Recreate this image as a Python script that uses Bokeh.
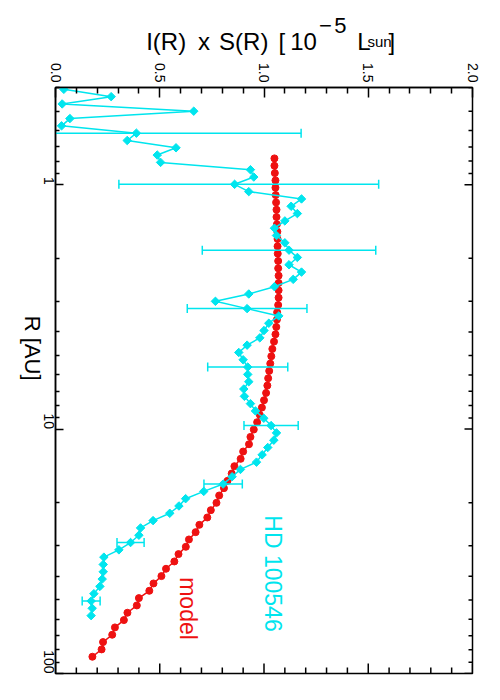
import math
from bokeh.plotting import figure
from bokeh.layouts import column
from bokeh.models import Range1d, FixedTicker, Label, NumeralTickFormatter
from bokeh.core.properties import value
from bokeh.embed import file_html
from bokeh.resources import INLINE

# ---------------- data ----------------
# model curve: R [AU] and I(R) x S(R) [1e-5 Lsun]
model_r = [0.780, 0.836, 0.896, 0.960, 1.028, 1.102, 1.181, 1.265, 1.355, 1.452,
           1.556, 1.667, 1.786, 1.914, 2.051, 2.198, 2.355, 2.523, 2.703, 2.897,
           3.104, 3.326, 3.563, 3.818, 4.091, 4.384, 4.697, 5.033, 5.393, 5.779,
           6.192, 6.634, 7.109, 7.617, 8.162, 8.745, 9.370, 10.04, 10.76, 11.53,
           12.35, 13.23, 14.18, 15.19, 16.28, 17.44, 18.69, 20.03, 21.46, 22.99,
           24.64, 26.40, 28.28, 30.31, 32.47, 34.79, 37.28, 39.95, 42.81, 45.87,
           49.15, 52.66, 56.42, 60.46, 64.78, 69.41, 74.37, 79.69, 85.39]
model_v = [1.050, 1.050, 1.052, 1.055, 1.055, 1.056, 1.058, 1.060, 1.060, 1.062,
           1.064, 1.065, 1.065, 1.066, 1.068, 1.068, 1.070, 1.070, 1.070, 1.070,
           1.068, 1.063, 1.062, 1.059, 1.055, 1.048, 1.040, 1.035, 1.030, 1.025,
           1.020, 1.016, 1.010, 1.000, 0.990, 0.980, 0.967, 0.951, 0.935, 0.928,
           0.900, 0.888, 0.858, 0.845, 0.825, 0.808, 0.785, 0.772, 0.745, 0.728,
           0.690, 0.672, 0.640, 0.625, 0.590, 0.570, 0.530, 0.508, 0.470, 0.450,
           0.400, 0.390, 0.345, 0.328, 0.285, 0.272, 0.228, 0.221, 0.177]

# HD 100546 measurements
hd_r = [0.407, 0.436, 0.467, 0.500, 0.536, 0.574, 0.615, 0.659, 0.706, 0.756,
        0.810, 0.868, 0.930, 0.996, 1.067, 1.143, 1.225, 1.312, 1.406, 1.506,
        1.613, 1.728, 1.852, 1.984, 2.125, 2.277, 2.439, 2.613, 2.799, 2.999,
        3.213, 3.442, 3.687, 3.950, 4.232, 4.533, 4.857, 5.203, 5.574, 5.971,
        6.397, 6.853, 7.342, 7.865, 8.426, 9.027, 9.671, 10.36, 11.10, 11.89,
        12.74, 13.65, 14.62, 15.66, 16.78, 17.98, 19.26, 20.63, 22.10, 23.68,
        25.37, 27.18, 29.11, 31.19, 33.41, 35.80, 38.35, 41.08, 44.01, 47.15,
        50.51, 54.11, 57.97]
hd_v = [0.040, 0.267, 0.032, 0.663, 0.069, 0.029, 0.388, 0.344, 0.578, 0.488,
        0.504, 0.935, 0.951, 0.859, 0.927, 1.180, 1.130, 1.160, 1.100, 1.050,
        1.060, 1.100, 1.120, 1.160, 1.120, 1.180, 1.140, 1.050, 0.927, 0.767,
        0.919, 1.071, 1.023, 1.000, 0.980, 0.919, 0.879, 0.900, 0.922, 0.922,
        0.927, 0.903, 0.906, 0.935, 0.959, 0.999, 1.034, 1.060, 1.047, 1.018,
        0.991, 0.964, 0.887, 0.847, 0.804, 0.711, 0.624, 0.592, 0.548, 0.468,
        0.408, 0.400, 0.360, 0.304, 0.232, 0.229, 0.229, 0.224, 0.213, 0.184,
        0.171, 0.176, 0.171]

# error bars (every 8th measurement)
err_r = [0.615, 0.996, 1.852, 3.213, 5.574, 9.671, 16.78, 29.11, 50.51]
err_c = [0.388, 0.927, 1.120, 0.919, 0.922, 1.034, 0.804, 0.360, 0.171]
err_e = [0.790, 0.623, 0.416, 0.287, 0.192, 0.130, 0.092, 0.065, 0.043]

x_ticks = [0.0, 0.5, 1.0, 1.5, 2.0]
x_minor = [0.1, 0.2, 0.3, 0.4, 0.6, 0.7, 0.8, 0.9, 1.1, 1.2, 1.3, 1.4,
           1.6, 1.7, 1.8, 1.9]
r_ticks = [1, 10, 100]
r_minor = [0.4, 0.5, 0.6, 0.7, 0.8, 0.9, 2, 3, 4, 5, 6, 7, 8, 9,
           20, 30, 40, 50, 60, 70, 80, 90]

X_MIN, X_MAX = 0.0, 2.0
R_MIN, R_MAX = 0.4, 100.0

CYAN = "#00e5ee"
RED = "#ee1111"
FONT = "Liberation Sans"

# page layout: title strip on top, then the plot
PAGE_W = 492
TITLE_H = 55
MAIN_H = 640
# frame on the page: x 55..472, y 87..673
FR_L, FR_T, FR_R, FR_B = 55, 87, 472, 673

# ---- title strip (coordinates = page pixels) ----
tf = figure(width=PAGE_W, height=TITLE_H, x_range=Range1d(0, PAGE_W),
            y_range=Range1d(TITLE_H, 0), title=None,
            x_axis_location=None, y_axis_location=None,
            output_backend="svg", toolbar_location=None,
            min_border=0, outline_line_color=None)
tf.xgrid.visible = False
tf.ygrid.visible = False


def txt(s, x, y, size):
    tf.text(x=[x], y=[y], text=[s], text_font=value(FONT), text_font_size=value(size),
            text_color="black", text_align="left", text_baseline="alphabetic")


txt("I(R)", 107, 41, "24px")
txt("x", 168, 41, "24px")
txt("S(R)", 193, 41, "24px")
txt("[", 263, 41, "24px")
txt("10", 277, 41, "24px")
txt("\u2212", 311, 25, "22px")
txt("5", 329, 25, "22px")
txt("L", 356, 41, "24px")
txt("sun", 368, 41, "15px")
txt("]", 393, 41, "24px")

# ---------------- main figure ----------------
p = figure(width=PAGE_W, height=MAIN_H, title=None,
           x_range=Range1d(X_MIN, X_MAX), y_range=Range1d(R_MAX, R_MIN),
           y_axis_type="log", x_axis_location="above",
           output_backend="svg", toolbar_location=None,
           min_border_left=FR_L, min_border_top=FR_T - TITLE_H,
           min_border_right=PAGE_W - FR_R, min_border_bottom=TITLE_H + MAIN_H - FR_B)
p.xgrid.visible = False
p.ygrid.visible = False
p.outline_line_color = "black"
p.outline_line_width = 1.5
p.background_fill_color = "white"
p.border_fill_color = "white"


def style(ax, major_in, minor_in):
    ax.axis_line_color = "black"
    ax.axis_line_width = 1.5
    ax.major_tick_line_color = "black"
    ax.major_tick_line_width = 1.5
    ax.minor_tick_line_color = "black"
    ax.minor_tick_line_width = 1.5
    ax.major_tick_in = major_in
    ax.major_tick_out = 0
    ax.minor_tick_in = minor_in
    ax.minor_tick_out = 0
    ax.major_label_text_font = FONT
    ax.major_label_text_color = "black"
    ax.major_label_text_font_size = "14px"
    ax.major_label_orientation = -math.pi / 2


top = p.xaxis[0]
top.ticker = FixedTicker(ticks=x_ticks, minor_ticks=x_minor)
top.formatter = NumeralTickFormatter(format="0.0")
style(top, 10, 6)
top.major_label_standoff = 5

left = p.yaxis[0]
left.ticker = FixedTicker(ticks=r_ticks, minor_ticks=r_minor)
left.major_label_overrides = {1: "1", 10: "10", 100: "100"}
style(left, 8, 4)
left.major_label_standoff = 7
left.axis_label = "R [AU]"
left.axis_label_text_font = FONT
left.axis_label_text_font_size = "22px"
left.axis_label_text_font_style = "normal"
left.axis_label_text_color = "black"
left.axis_label_standoff = 3
if "axis_label_orientation" in left.properties():
    left.axis_label_orientation = -math.pi / 2


# inward ticks on the bottom and right edges (half of each dash is clipped by the frame)
def edge_ticks(xs, ys, length, angle):
    p.scatter(xs, ys, marker="dash", size=2 * length, angle=angle,
              line_color="black", line_width=1.5)


edge_ticks(x_ticks, [R_MAX] * len(x_ticks), 10, math.pi / 2)
edge_ticks(x_minor, [R_MAX] * len(x_minor), 6, math.pi / 2)
edge_ticks([X_MAX] * len(r_ticks), r_ticks, 8, 0)
edge_ticks([X_MAX] * len(r_minor), r_minor, 4, 0)

# model
p.line(model_v, model_r, line_color=RED, line_width=1.5)
p.scatter(model_v, model_r, marker="circle", size=7, fill_color=RED, line_color=RED)

# HD 100546
err_lo = [c - e for c, e in zip(err_c, err_e)]
err_hi = [c + e for c, e in zip(err_c, err_e)]
p.segment(x0=err_lo, y0=err_r, x1=err_hi, y1=err_r, line_color=CYAN, line_width=1.5)
p.scatter(err_lo + err_hi, err_r + err_r, marker="dash", size=9, angle=math.pi / 2,
          line_color=CYAN, line_width=1.5)
p.line(hd_v, hd_r, line_color=CYAN, line_width=1.5)
p.scatter(hd_v, hd_r, marker="square", size=6, angle=math.pi / 4,
          fill_color=CYAN, line_color=CYAN)


def lab(s, px, py, size, color):
    # inside the frame; screen units measured from the frame's bottom-left corner
    p.add_layout(Label(x=px - FR_L, y=FR_B - py, x_units="screen", y_units="screen",
                       text=s, text_font=FONT, text_font_size=size, text_color=color,
                       angle=-math.pi / 2, text_align="center", text_baseline="middle"))


lab("HD 100546", 272, 573, "23px", CYAN)
lab("model", 187, 608, "23px", RED)

layout = column(tf, p, spacing=0)
open("out.html", "w").write(file_html(layout, INLINE))
